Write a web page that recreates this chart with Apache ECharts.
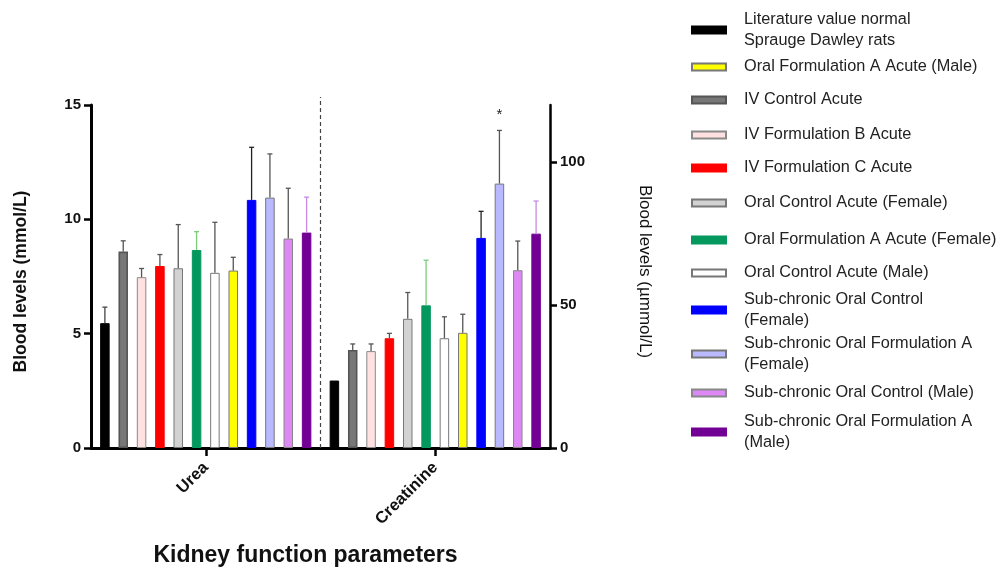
<!DOCTYPE html>
<html>
<head>
<meta charset="utf-8">
<script src="https://cdn.jsdelivr.net/npm/echarts@6/dist/echarts.min.js"></script>
<style>html,body{margin:0;padding:0;background:#fff}#c{width:1000px;height:572px}</style>
</head>
<body>
<div id="c"></div>
<script>
const categories = ['Urea', 'Creatinine'];
const groupNames = [
  'Literature value normal Sprauge Dawley rats',
  'IV Control Acute',
  'IV Formulation B Acute',
  'IV Formulation C Acute',
  'Oral Control Acute (Female)',
  'Oral Formulation A Acute (Female)',
  'Oral Control Acute (Male)',
  'Oral Formulation A Acute (Male)',
  'Sub-chronic Oral Control (Female)',
  'Sub-chronic Oral Formulation A (Female)',
  'Sub-chronic Oral Control (Male)',
  'Sub-chronic Oral Formulation A (Male)'
];
const legendLabels = [
  'Literature value normal\nSprauge Dawley rats',
  'IV Control Acute',
  'IV Formulation B Acute',
  'IV Formulation C Acute',
  'Oral Control Acute (Female)',
  'Oral Formulation A Acute (Female)',
  'Oral Control Acute (Male)',
  'Oral Formulation A Acute (Male)',
  'Sub-chronic Oral Control\n(Female)',
  'Sub-chronic Oral Formulation A\n(Female)',
  'Sub-chronic Oral Control (Male)',
  'Sub-chronic Oral Formulation A\n(Male)'
];
const legendOrder = [0, 7, 1, 2, 3, 4, 5, 6, 8, 9, 10, 11];
const ureaMean = [5.46, 8.59, 7.47, 7.96, 7.86, 8.66, 7.66, 7.76, 10.85, 10.95, 9.16, 9.42];
const ureaSD   = [0.70, 0.47, 0.38, 0.50, 1.91, 0.80, 2.21, 0.58, 2.30, 1.91, 2.20, 1.55];
const creatMean = [23.6, 34.3, 33.9, 38.4, 45.2, 49.9, 38.4, 40.3, 73.5, 92.5, 62.2, 75.0];
const creatSD   = [0, 2.1, 2.5, 1.7, 9.2, 15.8, 7.5, 6.5, 9.3, 18.6, 10.2, 11.4];
const creatNotes = ['', '', '', '', '', '', '', '', '', '*', '', ''];
const leftTicks = [0, 5, 10, 15];
const rightTicks = [0, 50, 100];

const fills   = ['#000000','#777777','#ffe1e1','#ff0000','#d2d2d2','#05985e','#ffffff','#ffff00','#0000ff','#b9b9ff','#dd88f4','#730095'];
const borders = ['#000000','#555555','#8a8a8a','#ff0000','#777777','#05985e','#777777','#777777','#0000ff','#777777','#888888','#730095'];
const errColors = ['#444','#555','#555','#555','#555','#7acc7a','#555','#555','#222','#555','#555','#c58ae6'];

const FONT = '"Liberation Sans", Arial, sans-serif';
const BAR_FRAC = 0.0414, GAP = 0.93;

const chart = echarts.init(document.getElementById('c'), null, {renderer: 'canvas'});

function errRender(notes) {
  return function (params, api) {
    const i = api.value(3);
    const cat = api.value(0);
    const mean = api.value(1);
    const top = api.value(2);
    const bw = api.size([1, 0])[0];
    const barW = bw * BAR_FRAC;
    const pitch = barW * (1 + GAP);
    const base = api.coord([cat, mean]);
    const x = base[0] + (i - 5.5) * pitch;
    const yt = api.coord([cat, top])[1];
    const children = [];
    const col = errColors[i];
    if (top > mean) {
      children.push({type: 'line', shape: {x1: x, y1: base[1], x2: x, y2: yt}, style: {stroke: col, lineWidth: 1.3}});
      children.push({type: 'line', shape: {x1: x - 2.5, y1: yt, x2: x + 2.5, y2: yt}, style: {stroke: col, lineWidth: 1.3}});
    }
    if (notes && notes[i]) {
      children.push({type: 'text', style: {text: notes[i], x: x, y: yt - 16, align: 'center', verticalAlign: 'middle', fontSize: 15, fontFamily: FONT, fill: '#222'}});
    }
    return {type: 'group', children: children};
  };
}

const series = [];
groupNames.forEach((n, i) => {
  const style = {color: fills[i], borderColor: borders[i], borderWidth: i === 1 ? 1.6 : 1};
  series.push({
    name: n, type: 'bar', xAxisIndex: 0, yAxisIndex: 0,
    barWidth: (BAR_FRAC * 100) + '%', barGap: (GAP * 100) + '%',
    itemStyle: style, data: [ureaMean[i], '-'], z: 2
  });
});
groupNames.forEach((n, i) => {
  const style = {color: fills[i], borderColor: borders[i], borderWidth: i === 1 ? 1.6 : 1};
  series.push({
    name: n, type: 'bar', xAxisIndex: 1, yAxisIndex: 1,
    barWidth: (BAR_FRAC * 100) + '%', barGap: (GAP * 100) + '%',
    itemStyle: style, data: ['-', creatMean[i]], z: 2
  });
});
series.push({
  type: 'custom', xAxisIndex: 0, yAxisIndex: 0, z: 3, silent: true,
  renderItem: errRender(null),
  data: ureaMean.map((m, i) => [0, m, m + ureaSD[i], i])
});
series.push({
  type: 'custom', xAxisIndex: 1, yAxisIndex: 1, z: 3, silent: true,
  renderItem: errRender(creatNotes),
  data: creatMean.map((m, i) => [1, m, m + creatSD[i], i])
});
// dashed divider between the two parameter groups
series.push({
  type: 'custom', xAxisIndex: 0, yAxisIndex: 0, z: 1, silent: true,
  renderItem: function (params, api) {
    const bw = api.size([1, 0])[0];
    const p0 = api.coord([0, 0]);
    const p1 = api.coord([0, api.value(1)]);
    const x = p0[0] + bw / 2;
    return {type: 'line', shape: {x1: x, y1: p0[1], x2: x, y2: p1[1]}, style: {stroke: '#444', lineWidth: 1.2, lineDash: [4, 3]}};
  },
  data: [[0, 15.35]]
});

const legendCenters = [30, 67, 100, 135, 168, 203, 240, 273, 310, 354, 393, 432];
const legends = legendOrder.map((gi, k) => {
  const lines = legendLabels[gi].split('\n').length;
  const h = lines * 21;
  return {
    orient: 'vertical', left: 691, top: legendCenters[k] - h / 2, padding: 0,
    itemWidth: 34, itemHeight: 7, icon: 'rect', selectedMode: false,
    data: [groupNames[gi]],
    formatter: () => legendLabels[gi],
    textStyle: {fontSize: 16.3, lineHeight: 21, color: '#222', fontFamily: FONT, padding: [0, 0, 0, 13]}
  };
});

const axisLine = {show: true, lineStyle: {color: '#000', width: 3}};
const axisTick = {show: true, length: 7, lineStyle: {color: '#000', width: 2.5}};

chart.setOption({
  animation: false,
  backgroundColor: '#fff',
  textStyle: {fontFamily: FONT},
  grid: {left: 91, right: 450, top: 105, bottom: 123.5, containLabel: false},
  legend: legends,
  xAxis: [{
    type: 'category', data: categories, position: 'bottom',
    axisLine: axisLine,
    axisTick: {show: true, alignWithLabel: true, length: 8, lineStyle: {color: '#000', width: 2.5}},
    axisLabel: {rotate: 45, margin: 17, fontSize: 16.5, fontWeight: 'bold', color: '#111', fontFamily: FONT},
    name: 'Kidney function parameters', nameLocation: 'middle', nameGap: 96,
    nameTextStyle: {fontSize: 23, fontWeight: 'bold', color: '#111', fontFamily: FONT, padding: [0, 30, 0, 0]}
  }, {
    type: 'category', data: categories, show: false
  }],
  yAxis: [{
    type: 'value', position: 'left', min: 0, max: 15, interval: 5,
    axisLine: axisLine, axisTick: axisTick, splitLine: {show: false},
    axisLabel: {fontSize: 15, fontWeight: 'bold', color: '#111', margin: 10, fontFamily: FONT, customValues: leftTicks},
    name: 'Blood levels (mmol/L)', nameLocation: 'middle', nameGap: 61, nameRotate: 90,
    nameTextStyle: {fontSize: 17.5, fontWeight: 'bold', color: '#111', fontFamily: FONT, padding: [0, 10, 0, 0]}
  }, {
    type: 'value', position: 'right', min: 0, max: 120, interval: 50,
    axisLine: {show: true, lineStyle: {color: '#000', width: 2.5}},
    axisTick: {show: true, length: 7, lineStyle: {color: '#000', width: 2.5}, customValues: rightTicks},
    splitLine: {show: false},
    axisLabel: {fontSize: 15, fontWeight: 'bold', color: '#111', margin: 10, fontFamily: FONT, customValues: rightTicks},
    name: 'Blood levels (\u00b5mmol/L)', nameLocation: 'middle', nameGap: 86, nameRotate: -90,
    nameTextStyle: {fontSize: 17, color: '#111', fontFamily: FONT, padding: [0, 10, 0, 0]}
  }],
  series: series
});
</script>
</body>
</html>
